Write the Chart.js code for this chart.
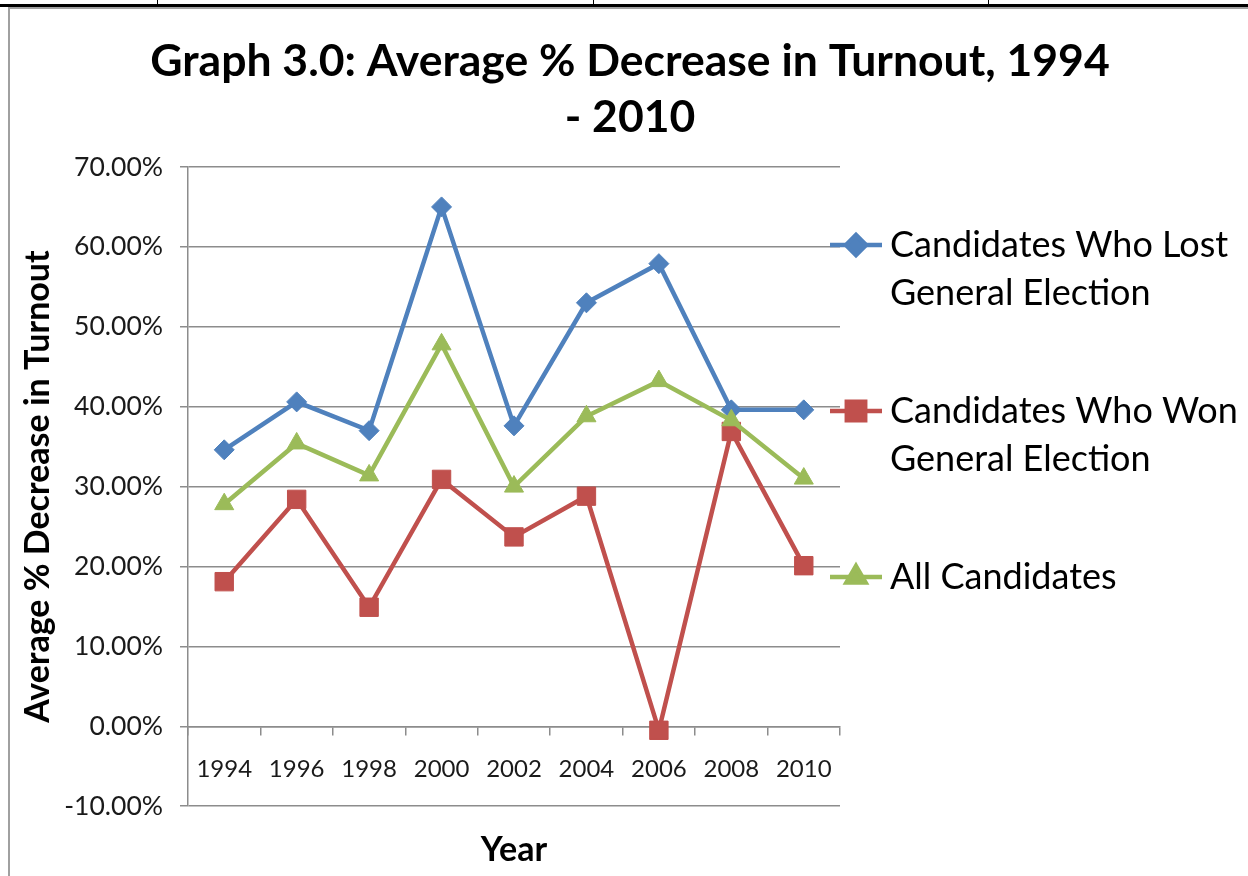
<!DOCTYPE html>
<html>
<head>
<meta charset="utf-8">
<script src="https://cdn.jsdelivr.net/npm/chart.js@4.4.1/dist/chart.umd.min.js"></script>
<style>
  html, body { margin: 0; padding: 0; background: #fff; }
  #wrap { position: relative; width: 1248px; height: 876px; overflow: hidden; }
  #frameTop { position: absolute; left: 0; top: 4px; width: 1248px; height: 3px; background: #000; }
  #frameTop2 { position: absolute; left: 8px; top: 7px; width: 1240px; height: 2px; background: #a0a0a0; }
  #frameLeft { position: absolute; left: 8px; top: 7px; width: 2px; height: 869px; background: #a0a0a0; }
  .cellLine { position: absolute; top: 0; width: 1px; height: 5px; background: #000; }
  canvas { position: absolute; left: 0; top: 0; }
</style>
</head>
<body>
<div id="wrap">
  <div id="frameTop"></div>
  <div id="frameTop2"></div>
  <div id="frameLeft"></div>
  <div class="cellLine" style="left:157px"></div>
  <div class="cellLine" style="left:593px"></div>
  <div class="cellLine" style="left:988px"></div>
  <canvas id="chart" width="1248" height="876"></canvas>
</div>
<script>
// Graph 3.0: Average % Decrease in Turnout, 1994 - 2010

const years = ['1994', '1996', '1998', '2000', '2002', '2004', '2006', '2008', '2010'];

// values in percent
const lostGeneral = [34.6, 40.6, 37.0, 65.0, 37.6, 53.0, 57.9, 39.6, 39.6];
const wonGeneral = [18.1, 28.4, 14.9, 30.9, 23.7, 28.8, -0.5, 36.9, 20.1];
const allCandidates = [27.8, 35.4, 31.4, 47.8, 30.0, 38.8, 43.2, 38.3, 31.0];

const seriesNames = [
    ['Candidates Who Lost', 'General Election'],
    ['Candidates Who Won', 'General Election'],
    ['All Candidates']
];

const colors = {
    lost: '#4F81BD',
    won: '#C0504D',
    all: '#9BBB59'
};

const FONT = 'Lato, "Open Sans", sans-serif';
const gridColor = '#8c8c8c';

// legend drawn on the right side, Excel style (multi-line labels)
const sideLegend = {
    id: 'sideLegend',
    afterDraw(chart, args, opts) {
        const ctx = chart.ctx;
        const area = chart.chartArea;
        const x0 = area.right - 10;
        const lineLen = opts.lineLength;
        const textX = x0 + lineLen + 8;
        ctx.save();
        ctx.font = opts.fontSize + 'px ' + FONT;
        ctx.textBaseline = 'middle';
        ctx.textAlign = 'left';
        chart.data.datasets.forEach((ds, i) => {
            const y = opts.top + i * opts.spacing;
            ctx.strokeStyle = ds.borderColor;
            ctx.lineWidth = ds.borderWidth;
            ctx.beginPath();
            ctx.moveTo(x0, y);
            ctx.lineTo(x0 + lineLen, y);
            ctx.stroke();
            ctx.fillStyle = ds.pointBackgroundColor;
            ctx.strokeStyle = ds.pointBorderColor;
            Chart.helpers.drawPoint(ctx, {
                pointStyle: ds.pointStyle,
                radius: ds.pointRadius,
                rotation: 0,
                borderWidth: ds.pointBorderWidth
            }, x0 + lineLen / 2, y);
            ctx.fillStyle = '#000';
            ds.legendLines.forEach((line, j) => {
                ctx.fillText(line, textX, y + j * opts.lineHeight);
            });
        });
        ctx.restore();
    }
};

function makeSeries(label, lines, data, color, style, radius, order) {
    return {
        label: label,
        legendLines: lines,
        data: data,
        borderColor: color,
        backgroundColor: color,
        pointBackgroundColor: color,
        pointBorderColor: color,
        borderWidth: 4.5,
        pointStyle: style,
        pointRadius: radius,
        pointBorderWidth: 1,
        pointHoverRadius: radius,
        fill: false,
        tension: 0,
        order: order
    };
}

const datasets = [
    makeSeries(seriesNames[0].join(' '), seriesNames[0], lostGeneral, colors.lost, 'rectRot', 10, 2),
    makeSeries(seriesNames[1].join(' '), seriesNames[1], wonGeneral, colors.won, 'rect', 13, 1),
    makeSeries(seriesNames[2].join(' '), seriesNames[2], allCandidates, colors.all, 'triangle', 11, 0)
];

new Chart(document.getElementById('chart'), {
    type: 'line',
    data: {
        labels: years,
        datasets: datasets
    },
    plugins: [sideLegend],
    options: {
        responsive: false,
        animation: false,
        layout: {
            padding: { left: 12, right: 0, top: 34, bottom: 6 }
        },
        plugins: {
            legend: { display: false },
            tooltip: { enabled: false },
            title: {
                display: true,
                text: ['Graph 3.0: Average % Decrease in Turnout, 1994', '- 2010'],
                color: '#000',
                font: { family: FONT, size: 44.5, weight: 'bold', lineHeight: 1.258 },
                padding: { top: 0, bottom: 21 }
            },
            subtitle: {
                display: true,
                position: 'bottom',
                fullSize: false,
                text: 'Year',
                color: '#000',
                font: { family: FONT, size: 34, weight: 'bold', lineHeight: 1.2 },
                padding: { top: 23, bottom: 0 }
            },
            sideLegend: {
                top: 245,
                spacing: 166,
                lineHeight: 48,
                lineLength: 52,
                fontSize: 36
            }
        },
        scales: {
            x: {
                position: { y: 0 },
                offset: true,
                afterFit: (scale) => { scale.height = 0; },
                border: { display: true, color: gridColor, width: 1.5 },
                grid: {
                    offset: true,
                    drawOnChartArea: false,
                    drawTicks: true,
                    tickLength: 8,
                    color: gridColor,
                    lineWidth: 1.5
                },
                ticks: {
                    color: '#1a1a1a',
                    padding: 21,
                    maxRotation: 0,
                    font: { family: FONT, size: 24 }
                }
            },
            y: {
                min: -10,
                max: 70,
                afterFit: (scale) => { scale.width = 176; },
                border: { display: true, color: gridColor, width: 1.5 },
                grid: {
                    color: gridColor,
                    lineWidth: 1.5,
                    tickLength: 8
                },
                ticks: {
                    stepSize: 10,
                    color: '#1a1a1a',
                    padding: 17,
                    font: { family: FONT, size: 26.5 },
                    callback: (v) => v.toFixed(2) + '%'
                },
                title: {
                    display: true,
                    text: 'Average % Decrease in Turnout',
                    color: '#000',
                    font: { family: FONT, size: 34, weight: 'bold', lineHeight: 1.2 },
                    padding: { top: 6, bottom: 0 }
                }
            },
            // empty right-hand axis that keeps room for the legend
            legendSpace: {
                position: 'right',
                display: true,
                afterFit: (scale) => { scale.width = 408; },
                border: { display: false },
                grid: { display: false },
                ticks: { display: false }
            }
        }
    }
});
</script>
</body>
</html>
